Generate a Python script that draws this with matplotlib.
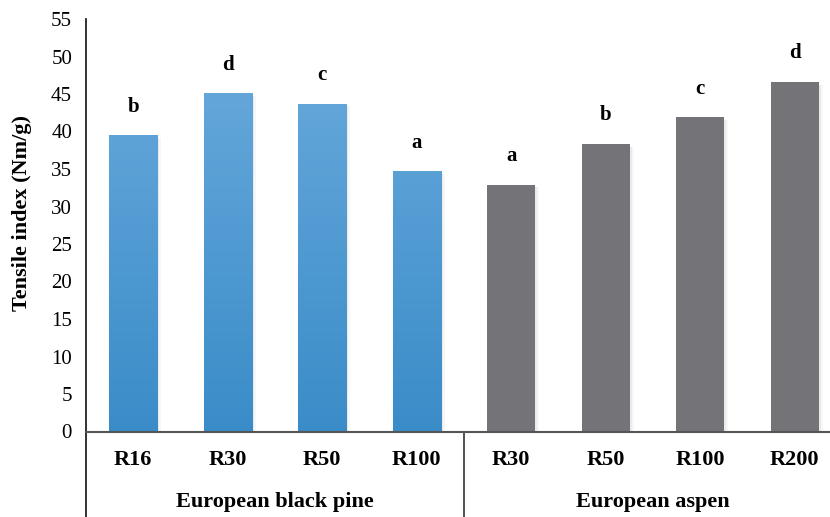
import matplotlib
matplotlib.use("Agg")
import matplotlib.pyplot as plt
import matplotlib.transforms as mtransforms
from matplotlib.colors import LinearSegmentedColormap
import numpy as np

plt.rcParams['font.family'] = ['Liberation Serif', 'DejaVu Serif']

species = ["European black pine", "European aspen"]
pine_labels = ["R16", "R30", "R50", "R100"]
aspen_labels = ["R30", "R50", "R100", "R200"]
pine_values = [39.5, 45.1, 43.7, 34.7]
aspen_values = [32.9, 38.3, 41.9, 46.6]
pine_letters = ["b", "d", "c", "a"]
aspen_letters = ["a", "b", "c", "d"]
yticks = list(range(0, 56, 5))

categories = pine_labels + aspen_labels
values = pine_values + aspen_values
letters = pine_letters + aspen_letters

fig = plt.figure(figsize=(8.30, 5.17), dpi=100)
ax = fig.add_axes([86/830, 1-431.5/517, (842-86)/830, (431.5-19)/517])

x = np.arange(len(categories))
bars = ax.bar(x, values, width=0.51, color="none", edgecolor="none", zorder=2)

blue_cmap = LinearSegmentedColormap.from_list("b", ["#3a8cc8", "#6cacde"])
grad = np.linspace(0, 1, 256).reshape(-1, 1)
for i, b in enumerate(bars):
    x0 = b.get_x()
    w = b.get_width()
    # soft shadow
    for k, a in ((0.02, 0.05), (0.04, 0.03)):
        ax.bar(x[i] + k, values[i], width=0.51, bottom=-0.35, color="#000000", alpha=a,
               zorder=1, edgecolor="none")
    if i < len(pine_values):
        im = ax.imshow(grad, extent=[x0, x0 + w, 0, 55], origin="lower", cmap=blue_cmap,
                       aspect="auto", zorder=2, vmin=0, vmax=1)
        im.set_clip_path(b)
    else:
        b.set_facecolor("#747478")

for xi, v, l in zip(x, values, letters):
    ax.text(xi, v + 2.5, l, ha="center", va="bottom", fontsize=15, fontweight="bold")

ax.set_xlim(-0.5, len(categories) - 0.5)
ax.set_ylim(0, 55)
ax.set_yticks(yticks)
ax.set_yticklabels([str(t) for t in yticks], fontsize=15)
ax.tick_params(axis="y", length=0, pad=10)
ax.set_xticks(x)
ax.set_xticklabels(categories, fontsize=16, fontweight="bold")
ax.tick_params(axis="x", length=0, pad=13)

for s in ["top", "right"]:
    ax.spines[s].set_visible(False)
ax.spines["left"].set_color("#222222")
ax.spines["left"].set_linewidth(1.3)
ax.spines["bottom"].set_color("#555555")
ax.spines["bottom"].set_linewidth(1.5)

ax.set_ylabel("Tensile index (Nm/g)", fontsize=16, fontweight="bold")
ax.yaxis.set_label_coords(-0.072, 0.53)

trans = mtransforms.blended_transform_factory(ax.transData, ax.transAxes)
ax.plot([0, 0], [0, -0.21], transform=ax.transAxes, color="#222222", lw=1.3, clip_on=False)
ax.plot([3.5, 3.5], [0, -0.21], transform=trans, color="#444444", lw=1.3, clip_on=False)
ax.text(1.5, -0.17, species[0], transform=trans, ha="center", va="center", fontsize=16, fontweight="bold")
ax.text(5.5, -0.17, species[1], transform=trans, ha="center", va="center", fontsize=16, fontweight="bold")

fig.savefig("out.png", dpi=100)
